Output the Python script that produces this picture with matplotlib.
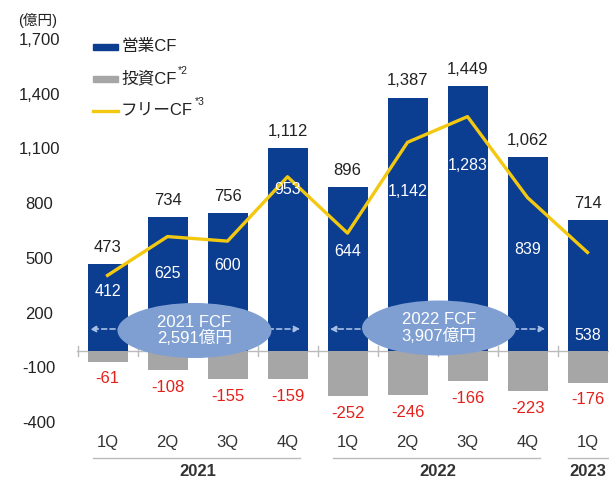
import matplotlib
matplotlib.use('Agg')
import matplotlib.pyplot as plt
from matplotlib.patches import Ellipse, Rectangle

plt.rcParams['font.family'] = ['Liberation Sans', 'Noto Sans CJK JP', 'DejaVu Sans']

# data
quarters = ["1Q", "2Q", "3Q", "4Q", "1Q", "2Q", "3Q", "4Q", "1Q"]
years = ["2021", "2022", "2023"]
year_span = [(0, 3), (4, 7), (8, 8)]
op_cf = [473, 734, 756, 1112, 896, 1387, 1449, 1062, 714]
inv_cf = [-61, -108, -155, -159, -252, -246, -166, -223, -176]
free_cf = [412, 625, 600, 953, 644, 1142, 1283, 839, 538]
yticks = [1700, 1400, 1100, 800, 500, 200, -100, -400]
fcf_totals = ["2021 FCF\n2,591億円", "2022 FCF\n3,907億円"]

# layout (pixel mapping)
W, H = 609, 483
X0, DX = 107.5, 60.0          # pixel x of first category, spacing
Y0, SY = 350.5, 0.1823        # pixel y of zero, px per unit
fcf_label_py = [292, 273, 265, 190, 252, 192, 165, 250, 336]
year_line_px = [(93, 300), (333, 540), (568, 609)]

def vy(py):
    return (Y0 - py) / SY

def vx(px):
    return (px - X0) / DX

BLUE = "#0b3d91"
GRAY = "#a6a6a6"
YELLOW = "#f2c811"
RED = "#e3211c"
ELL = "#7f9fd2"
TXT = "#222222"

fig = plt.figure(figsize=(W / 100, H / 100), dpi=100)
ax = fig.add_axes([0, 0, 1, 1])
ax.set_xlim(vx(0), vx(W))
ax.set_ylim(vy(H), vy(0))
ax.axis('off')

x = list(range(len(op_cf)))
bw = 40 / DX
ax.bar(x, op_cf, width=bw, color=BLUE, zorder=2)
ax.bar(x, inv_cf, width=bw, color=GRAY, zorder=2)
ax.plot(x, free_cf, color=YELLOW, lw=2.4, zorder=3)

# zero axis line with separators
ax.plot([vx(77), vx(W)], [0, 0], color="#bbbbbb", lw=1, zorder=1)
for i in range(len(x)):
    xs = i - 0.5
    ax.plot([xs, xs], [vy(346), vy(356)], color="#bbbbbb", lw=1, zorder=1)

for i in x:
    ax.annotate(f"{op_cf[i]:,}", (i, op_cf[i]), xytext=(0, 12), textcoords='offset points',
                ha='center', va='center', fontsize=12, color=TXT)
    ax.annotate(f"{inv_cf[i]}", (i, inv_cf[i]), xytext=(0, -12.5), textcoords='offset points',
                ha='center', va='center', fontsize=12, color=RED)
    ax.text(i, vy(fcf_label_py[i]), f"{free_cf[i]:,}", ha='center', va='center',
            fontsize=11.5, color="white", zorder=4)
    ax.text(i, vy(443), quarters[i], ha='center', va='center', fontsize=12, color="#333333")

# year labels and underline
for yr, (a, b), (p0, p1) in zip(years, year_span, year_line_px):
    ax.plot([vx(p0), vx(p1)], [vy(458), vy(458)], color="#bbbbbb", lw=1)
    ax.text((a + b) / 2, vy(472), yr, ha='center', va='center', fontsize=12,
            fontweight='bold', color="#333333")

# y tick labels
for t in yticks:
    ax.text(vx(39), t, f"{t:,}", ha='center', va='center', fontsize=12, color=TXT)
ax.text(vx(38), vy(20), "(億円)", ha='center', va='center', fontsize=10.5, color=TXT)

# FCF totals ellipses with dashed arrows
ells = [((194.5, 330.5), (87, 303)), ((439, 328), (327, 548))]
for (c, (a0, a1)), label in zip(ells, fcf_totals):
    ax.annotate("", xy=(vx(a0), vy(329)), xytext=(vx(a1), vy(329)),
                arrowprops=dict(arrowstyle='<|-|>', color="#a8c0e6", lw=1.2,
                                linestyle=(0, (3, 2)), mutation_scale=9), zorder=4)
    e = Ellipse((vx(c[0]), vy(c[1])), 154 / DX, 55 / SY, facecolor=ELL, edgecolor='none', zorder=5)
    ax.add_patch(e)
    ax.text(vx(c[0]), vy(c[1]), label, ha='center', va='center', fontsize=12,
            color="white", zorder=6, linespacing=1.0)

# legend
ax.add_patch(Rectangle((vx(93), vy(50)), 25 / DX, 6 / SY, color=BLUE))
ax.text(vx(121), vy(47), "営業CF", ha='left', va='center', fontsize=12, color=TXT)
ax.add_patch(Rectangle((vx(93), vy(82)), 25 / DX, 6 / SY, color=GRAY))
ax.text(vx(121), vy(79), "投資CF", ha='left', va='center', fontsize=12, color=TXT)
ax.text(vx(178), vy(71), "*2", ha='left', va='center', fontsize=7.5, color=TXT)
ax.plot([vx(93), vx(118)], [vy(111), vy(111)], color=YELLOW, lw=2.4)
ax.text(vx(121), vy(110), "フリーCF", ha='left', va='center', fontsize=12, color=TXT)
ax.text(vx(195), vy(102), "*3", ha='left', va='center', fontsize=7.5, color=TXT)

fig.savefig("out.png", dpi=100)
